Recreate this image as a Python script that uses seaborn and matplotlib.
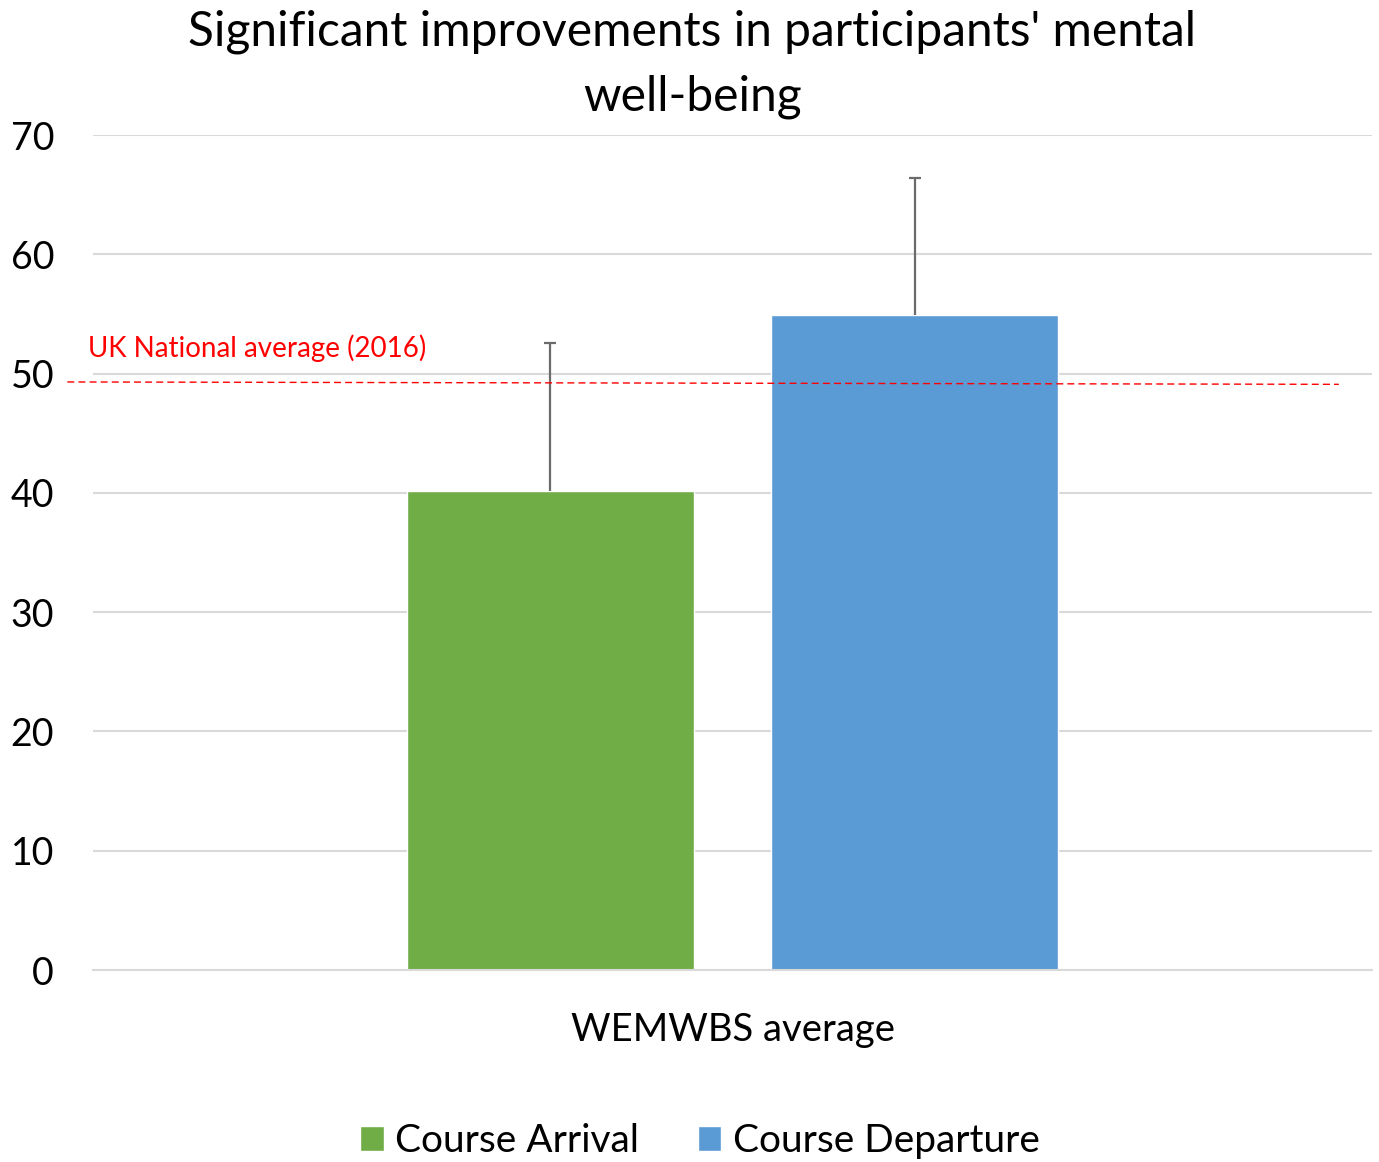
import pandas as pd
import matplotlib.pyplot as plt
import seaborn as sns

# values
group = ['WEMWBS average']
series = ['Course Arrival', 'Course Departure']
means = [40.2, 54.9]
plus_err = [12.4, 11.5]
national_avg = 49.2
colors = ['#70AD47', '#5B9BD5']

data = pd.DataFrame({
    'group': group * len(series),
    'series': series,
    'mean': means,
})

sns.set_theme(style='white')
plt.rcParams['font.family'] = ['Lato', 'DejaVu Sans']
plt.rcParams['text.color'] = 'black'
plt.rcParams['xtick.color'] = 'black'
plt.rcParams['ytick.color'] = 'black'

fig = plt.figure(figsize=(13.79, 11.62), dpi=100)
ax = fig.add_axes([0.0674, 0.1652, 0.9276, 0.7186])

sns.barplot(data=data, x='group', y='mean', hue='series', palette=colors,
            width=0.57, gap=0.213, ax=ax, saturation=1, errorbar=None)

# plus-only error bars placed on the drawn bars
for bar, err in zip(ax.patches[:len(series)], plus_err):
    cx = bar.get_x() + bar.get_width() / 2
    top = bar.get_height()
    _, caps, _ = ax.errorbar([cx], [top], yerr=[[0], [err]], fmt='none',
                             ecolor='#6b6b6b', elinewidth=1.6, capsize=4.3,
                             capthick=1.6, zorder=3)
    caps[0].set_visible(False)

# national average reference line
ax.plot([-0.52, 0.474], [national_avg + 0.1, national_avg - 0.1], color='red',
        linestyle=(0, (5, 3)), linewidth=1, clip_on=False, zorder=4)
ax.text(-0.504, 51.4, 'UK National average (2016)', color='red',
        fontsize=20, va='baseline', ha='left')

ax.set_ylim(0, 70)
ax.set_xlim(-0.5, 0.5)
ax.set_yticks(range(0, 71, 10))
ax.yaxis.grid(True, color='#d9d9d9', linewidth=1.5)
ax.set_axisbelow(True)
for s in ['top', 'right', 'left']:
    ax.spines[s].set_visible(False)
ax.spines['bottom'].set_color('#d9d9d9')
ax.spines['bottom'].set_linewidth(1.5)
ax.tick_params(axis='y', labelsize=27, length=0, pad=28)
ax.tick_params(axis='x', labelsize=27.5, length=0, pad=30)
ax.set_xlabel('')
ax.set_ylabel('')

fig.text(0.502, 1 - 10 / 1162, "Significant improvements in participants' mental\nwell-being",
         fontsize=34.5, ha='center', va='top', linespacing=1.55)

ax.legend(loc='center', bbox_to_anchor=(0.4746, -0.205), ncol=2, frameon=False,
          fontsize=28, handlelength=0.6, handleheight=0.6, handletextpad=0.3,
          columnspacing=1.5)

fig.savefig('out.png', dpi=100)
